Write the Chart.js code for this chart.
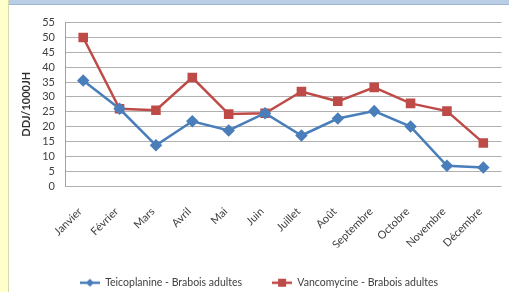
<!DOCTYPE html>
<html>
<head>
<meta charset="utf-8">
<script src="https://cdn.jsdelivr.net/npm/chart.js@4"></script>
<style>
  html, body { margin: 0; padding: 0; width: 509px; height: 292px; overflow: hidden; background: #fff; }
  #side { position: absolute; left: 0; top: 0; width: 8px; height: 292px; background: #ffffcc; border-right: 1px solid #d8d8b0; }
  #topbar { position: absolute; left: 9px; top: 0; right: 0; height: 4px; background: #b9cde5; border-bottom: 1px solid #9fb6d2; }
  #wrap { position: absolute; left: 9px; top: 6px; width: 500px; height: 292px; }
</style>
</head>
<body>
<div id="side"></div>
<div id="topbar"></div>
<div id="wrap"><canvas id="chart"></canvas></div>
<script>
// données
const mois = ["Janvier", "Février", "Mars", "Avril", "Mai", "Juin", "Juillet", "Août", "Septembre", "Octobre", "Novembre", "Décembre"];
const teicoplanine = [35.5, 26, 13.7, 21.8, 18.7, 24.5, 17, 22.7, 25.2, 20, 6.8, 6.2];
const vancomycine = [50, 26, 25.5, 36.5, 24.2, 24.5, 31.8, 28.5, 33.2, 27.8, 25.2, 14.5];
const yTicks = [0, 5, 10, 15, 20, 25, 30, 35, 40, 45, 50, 55];

const BLEU = "#4a7ebb";
const ROUGE = "#be4b48";
const FONT = "Lato";

// petite icône de légende : trait + marqueur
function legendIcon(color, style) {
  const c = document.createElement("canvas");
  c.width = 20; c.height = 10;
  const g = c.getContext("2d");
  g.strokeStyle = color; g.lineWidth = 2.5;
  g.beginPath(); g.moveTo(0, 5); g.lineTo(20, 5); g.stroke();
  g.fillStyle = color;
  if (style === "rect") {
    g.fillRect(6, 1, 8, 8);
  } else {
    g.beginPath(); g.moveTo(10, 1); g.lineTo(14, 5); g.lineTo(10, 9); g.lineTo(6, 5); g.closePath(); g.fill();
  }
  return c;
}
const icons = [legendIcon(BLEU, "rectRot"), legendIcon(ROUGE, "rect")];

const ctx = document.getElementById("chart").getContext("2d");
new Chart(ctx, {
  type: "line",
  data: {
    labels: mois,
    datasets: [
      { label: "Teicoplanine - Brabois adultes", data: teicoplanine, borderColor: BLEU, backgroundColor: BLEU,
        borderWidth: 2.5, pointStyle: "rectRot", pointRadius: 4.5, pointHoverRadius: 4.5, tension: 0 },
      { label: "Vancomycine - Brabois adultes", data: vancomycine, borderColor: ROUGE, backgroundColor: ROUGE,
        borderWidth: 2.5, pointStyle: "rect", pointRadius: 5, pointHoverRadius: 5, tension: 0 }
    ]
  },
  options: {
    responsive: true,
    maintainAspectRatio: false,
    animation: false,
    layout: { padding: { top: 13, left: 0, right: 0, bottom: 0 } },
    plugins: {
      tooltip: { enabled: false },
      legend: {
        position: "bottom",
        labels: {
          usePointStyle: true,
          pointStyleWidth: 20,
          padding: 30,
          color: "#404040",
          font: { family: FONT, size: 10.5 },
          generateLabels: chart => Chart.defaults.plugins.legend.labels.generateLabels(chart)
            .map((it, i) => Object.assign(it, { pointStyle: icons[i] }))
        }
      }
    },
    scales: {
      x: {
        offset: true,
        grid: { display: false },
        border: { display: false },
        ticks: { color: "#404040", font: { family: FONT, size: 11 }, minRotation: 45, maxRotation: 45, padding: 11, autoSkip: false, labelOffset: -3 },
        afterFit: s => { s.height = 61.5; }
      },
      y: {
        min: 0, max: 55,
        afterBuildTicks: s => { s.ticks = yTicks.map(v => ({ value: v })); },
        grid: { color: "#b0b0b0", lineWidth: 1, drawTicks: false },
        border: { display: true, color: "#a0a0a0" },
        ticks: { color: "#404040", font: { family: FONT, size: 11 }, padding: 10, autoSkip: false },
        title: { display: true, text: "DDJ/1000JH", color: "#303030", font: { family: FONT, size: 11, weight: "bold" }, padding: { top: 11, bottom: 0 } },
        afterFit: s => { s.width = 56; }
      }
    }
  }
});
</script>
</body>
</html>
